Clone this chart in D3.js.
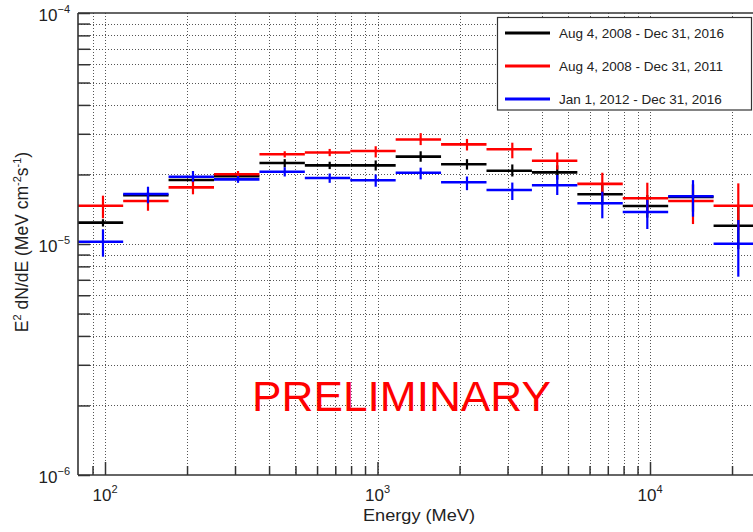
<!DOCTYPE html>
<html><head><meta charset="utf-8">
<script src="https://cdn.jsdelivr.net/npm/d3@7"></script>
<style>
body{margin:0;background:#fff;}
svg{display:block;font-family:"Liberation Sans",Arial,Helvetica,sans-serif;}
</style>
</head><body>
<svg id="chart" width="753" height="532"></svg>
<script>
// ---- data ----
const binEdges = [79.4, 116.6, 171.1, 251.2, 368.8, 541.2, 794.3, 1166, 1711, 2512, 3687, 5412, 7943, 11659, 17113, 25119];
const energies = [98.3, 143.8, 210.3, 307.7, 456.6, 667.6, 984.9, 1440, 2130, 3124, 4567, 6683, 9775, 14380, 21090];

const seriesNames = ["Aug 4, 2008 - Dec 31, 2016", "Aug 4, 2008 - Dec 31, 2011", "Jan 1, 2012 - Dec 31, 2016"];
const seriesColors = ["#000000", "#ff0000", "#0000ff"];

// E^2 dN/dE, MeV cm^-2 s^-1
const fluxAll   = [1.237e-5, 1.625e-5, 1.893e-5, 1.964e-5, 2.242e-5, 2.19e-5, 2.19e-5, 2.388e-5, 2.213e-5, 2.076e-5, 2.043e-5, 1.641e-5, 1.46e-5, 1.598e-5, 1.20e-5];
const fluxAllLo = [1.19e-5, 1.575e-5, 1.845e-5, 1.915e-5, 2.15e-5, 2.11e-5, 2.08e-5, 2.27e-5, 2.10e-5, 1.96e-5, 1.90e-5, 1.48e-5, 1.30e-5, 1.38e-5, 0.95e-5];
const fluxAllHi = [1.28e-5, 1.675e-5, 1.94e-5, 2.015e-5, 2.33e-5, 2.27e-5, 2.30e-5, 2.52e-5, 2.33e-5, 2.21e-5, 2.19e-5, 1.80e-5, 1.63e-5, 1.82e-5, 1.45e-5];

const fluxEarly   = [1.465e-5, 1.535e-5, 1.759e-5, 2.003e-5, 2.445e-5, 2.49e-5, 2.527e-5, 2.834e-5, 2.70e-5, 2.57e-5, 2.294e-5, 1.82e-5, 1.577e-5, 1.535e-5, 1.465e-5];
const fluxEarlyLo = [1.292e-5, 1.393e-5, 1.641e-5, 1.94e-5, 2.37e-5, 2.40e-5, 2.37e-5, 2.68e-5, 2.54e-5, 2.35e-5, 2.10e-5, 1.62e-5, 1.35e-5, 1.22e-5, 1.15e-5];
const fluxEarlyHi = [1.619e-5, 1.657e-5, 1.874e-5, 2.07e-5, 2.52e-5, 2.58e-5, 2.65e-5, 3.02e-5, 2.85e-5, 2.745e-5, 2.49e-5, 2.035e-5, 1.842e-5, 1.80e-5, 1.83e-5];

const fluxLate   = [1.023e-5, 1.646e-5, 1.956e-5, 1.905e-5, 2.056e-5, 1.93e-5, 1.888e-5, 2.035e-5, 1.85e-5, 1.713e-5, 1.795e-5, 1.50e-5, 1.376e-5, 1.609e-5, 1.003e-5];
const fluxLateLo = [0.881e-5, 1.50e-5, 1.86e-5, 1.84e-5, 1.96e-5, 1.84e-5, 1.77e-5, 1.905e-5, 1.71e-5, 1.55e-5, 1.63e-5, 1.292e-5, 1.161e-5, 1.313e-5, 0.722e-5];
const fluxLateHi = [1.158e-5, 1.77e-5, 2.07e-5, 1.97e-5, 2.15e-5, 2.02e-5, 2.00e-5, 2.14e-5, 1.96e-5, 1.845e-5, 1.99e-5, 1.684e-5, 1.55e-5, 1.89e-5, 1.27e-5];

const xMajorTicks = [100, 1000, 10000];
const xMinorTicks = [90, 200, 300, 400, 500, 600, 700, 800, 900, 2000, 3000, 4000, 5000, 6000, 7000, 8000, 9000, 20000];
const yMajorTicks = [1e-6, 1e-5, 1e-4];
const yMinorTicks = [2e-6, 3e-6, 4e-6, 5e-6, 6e-6, 7e-6, 8e-6, 9e-6, 2e-5, 3e-5, 4e-5, 5e-5, 6e-5, 7e-5, 8e-5, 9e-5];
const xMajorExp = ["2", "3", "4"];
const yMajorExp = ["\u22126", "\u22125", "\u22124"];

// ---- layout ----
const svg = d3.select("#chart");
const L = 78, T = 13, B = 475;
const decade = 272.5;
const xMin = 79.6, xMax = 30000;
const R = L + decade * Math.log10(xMax / xMin);

const x = d3.scaleLog().domain([xMin, xMax]).range([L, R]);
const y = d3.scaleLog().domain([1e-6, 1e-4]).range([B, T]);

// grid
const grid = svg.append("g").attr("stroke", "#555").attr("stroke-width", 1).attr("stroke-dasharray", "1,2");
grid.selectAll(".gx").data(xMajorTicks.concat(xMinorTicks)).enter().append("line")
  .attr("x1", d => Math.round(x(d)) + 0.5).attr("x2", d => Math.round(x(d)) + 0.5)
  .attr("y1", T).attr("y2", B);
grid.selectAll(".gy").data([1e-5].concat(yMinorTicks)).enter().append("line")
  .attr("y1", d => Math.round(y(d)) + 0.5).attr("y2", d => Math.round(y(d)) + 0.5)
  .attr("x1", L).attr("x2", R);

// axes ticks
const axCol = "#333";
function styleAxis(g) {
  g.select(".domain").remove();
  g.selectAll(".tick line").attr("stroke", axCol).attr("stroke-width", 1.5);
  g.selectAll(".tick text").remove();
}
svg.append("g").attr("transform", `translate(0,${B})`)
  .call(d3.axisBottom(x).tickValues(xMinorTicks).tickSize(-9).tickFormat(() => "")).call(styleAxis);
svg.append("g").attr("transform", `translate(0,${B})`)
  .call(d3.axisBottom(x).tickValues(xMajorTicks).tickSize(-13).tickFormat(() => "")).call(styleAxis);
svg.append("g").attr("transform", `translate(${L},0)`)
  .call(d3.axisLeft(y).tickValues(yMinorTicks).tickSize(-12).tickFormat(() => "")).call(styleAxis);
svg.append("g").attr("transform", `translate(${L},0)`)
  .call(d3.axisLeft(y).tickValues(yMajorTicks).tickSize(-12).tickFormat(() => "")).call(styleAxis);

// tick labels
xMajorTicks.forEach((v, i) => {
  const t = svg.append("text").attr("x", x(v)).attr("y", B + 26).attr("text-anchor", "middle")
    .attr("font-size", 17).attr("fill", "#222");
  t.append("tspan").text("10");
  t.append("tspan").attr("font-size", 11).attr("dy", -8).text(xMajorExp[i]);
});
yMajorTicks.forEach((v, i) => {
  const t = svg.append("text").attr("x", L - 8).attr("y", y(v) + 8).attr("text-anchor", "end")
    .attr("font-size", 17).attr("fill", "#222");
  t.append("tspan").text("10");
  t.append("tspan").attr("font-size", 11).attr("dy", -8).text(yMajorExp[i]);
});

// axis titles
svg.append("text").attr("x", 419).attr("y", 521).attr("text-anchor", "middle")
  .attr("font-size", 16).attr("fill", "#222")
  .attr("textLength", 112).attr("lengthAdjust", "spacingAndGlyphs").text("Energy (MeV)");
const yt = svg.append("text").attr("transform", "translate(28,242) rotate(-90)").attr("text-anchor", "middle")
  .attr("font-size", 17.5).attr("fill", "#222");
yt.append("tspan").text("E");
yt.append("tspan").attr("font-size", 11).attr("dy", -7).text("2");
yt.append("tspan").attr("dy", 7).text(" dN/dE (MeV cm");
yt.append("tspan").attr("font-size", 11).attr("dy", -7).text("-2");
yt.append("tspan").attr("dy", 7).text("s");
yt.append("tspan").attr("font-size", 11).attr("dy", -7).text("-1");
yt.append("tspan").attr("dy", 7).text(")");

// data
svg.append("clipPath").attr("id", "plotclip").append("rect")
  .attr("x", L).attr("y", T).attr("width", R - L).attr("height", B - T);
const dataG = svg.append("g").attr("clip-path", "url(#plotclip)");
const series = [
  {vals: fluxAll, lo: fluxAllLo, hi: fluxAllHi},
  {vals: fluxEarly, lo: fluxEarlyLo, hi: fluxEarlyHi},
  {vals: fluxLate, lo: fluxLateLo, hi: fluxLateHi}
];
series.forEach((s, si) => {
  const g = dataG.append("g").attr("stroke", seriesColors[si]);
  const idx = d3.range(energies.length);
  g.selectAll(".h").data(idx).enter().append("line")
    .attr("x1", i => x(binEdges[i])).attr("x2", i => x(binEdges[i + 1]))
    .attr("y1", i => y(s.vals[i])).attr("y2", i => y(s.vals[i]))
    .attr("stroke-width", 2.6);
  g.selectAll(".v").data(idx).enter().append("line")
    .attr("x1", i => x(energies[i])).attr("x2", i => x(energies[i]))
    .attr("y1", i => y(s.lo[i])).attr("y2", i => y(s.hi[i]))
    .attr("stroke-width", 2.2);
});

// frame
const frame = svg.append("g").attr("stroke", axCol).attr("stroke-width", 1.6).attr("fill", "none");
frame.append("line").attr("x1", L).attr("x2", L).attr("y1", T).attr("y2", B);
frame.append("line").attr("x1", L).attr("x2", R).attr("y1", B).attr("y2", B);
frame.append("line").attr("x1", L).attr("x2", R).attr("y1", T).attr("y2", T);

// PRELIMINARY
svg.append("text").attr("x", 252).attr("y", 411).attr("font-size", 43).attr("fill", "#ff0000")
  .attr("textLength", 299).attr("lengthAdjust", "spacingAndGlyphs")
  .text("PRELIMINARY");

// legend
const lg = svg.append("g");
lg.append("rect").attr("x", 497.5).attr("y", 17.5).attr("width", 254).attr("height", 92.5)
  .attr("fill", "#fff").attr("stroke", "#333").attr("stroke-width", 1.2);
const legendY = [33, 66, 99];
seriesNames.forEach((n, i) => {
  lg.append("line").attr("x1", 505).attr("x2", 550).attr("y1", legendY[i]).attr("y2", legendY[i])
    .attr("stroke", seriesColors[i]).attr("stroke-width", 3);
  lg.append("text").attr("x", 559).attr("y", legendY[i] + 4.5).attr("font-size", 13.5).attr("fill", "#222").text(n);
});
</script>
</body></html>
